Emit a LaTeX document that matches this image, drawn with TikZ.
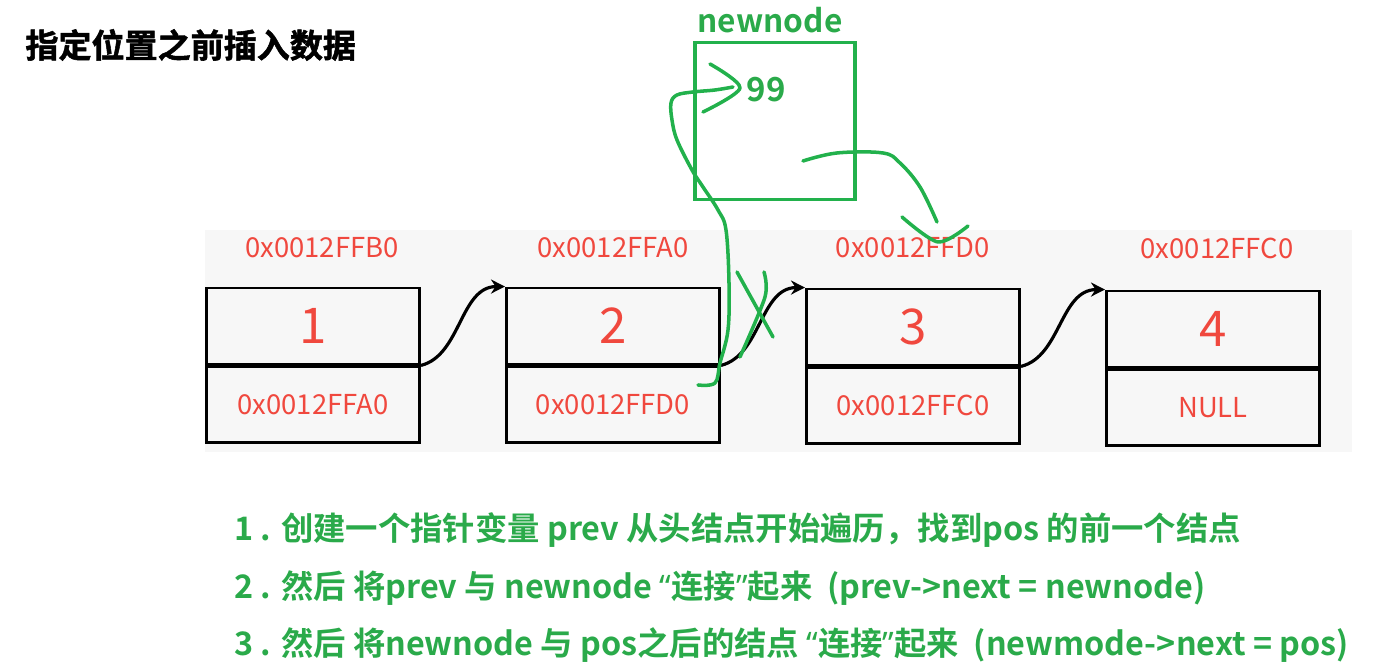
\documentclass[tikz,border=0pt]{standalone}
\usepackage{fontspec}
\setmainfont{Noto Sans CJK SC}
\newfontfamily\cjkbold[BoldFont=*]{Noto Sans CJK SC Bold}
\newfontfamily\titlefont[FakeBold=1.6]{Noto Sans CJK SC Bold}
\newfontfamily\latinsans{Noto Sans}
\newcommand{\openq}{{\latinsans\bfseries “}}
\newcommand{\closeq}{{\latinsans\bfseries ”}}
\usetikzlibrary{arrows.meta}
\definecolor{penGreen}{RGB}{34,177,76}
\definecolor{txtGreen}{RGB}{42,170,74}
\definecolor{addrRed}{RGB}{240,72,62}
\definecolor{panelGray}{RGB}{247,247,247}
\tikzset{
  field/.style={draw, line width=0.8pt, minimum width=2.13cm, minimum height=0.76cm, inner sep=0pt},
  addr/.style={text=addrRed, font=\fontsize{7.8}{9}\selectfont},
  val/.style={text=addrRed, font=\fontsize{14}{16}\selectfont},
  link/.style={line width=0.9pt, -{Stealth[length=4pt,width=4pt]}},
  pen/.style={penGreen, line width=1pt, line cap=round, line join=round},
  steptext/.style={anchor=west, text=txtGreen, font=\cjkbold\bfseries\fontsize{9.2}{11}\selectfont}
}
\begin{document}
\begin{tikzpicture}[x=0.01cm, y=-0.01cm]
  \useasboundingbox (0,0) rectangle (1387,671);
  % fond du schema
  \fill[panelGray] (205,230) rectangle (1352,452);

  % titre
  \node[anchor=west, font=\titlefont\fontsize{9.4}{11}\selectfont] (title) at (13,45) {指定位置之前插入数据};

  % les quatre noeuds de la liste
  \node[field] (d1) at (313,326) {}; \node[field, anchor=north] (n1) at (d1.south) {};
  \node[field] (d2) at (613,326) {}; \node[field, anchor=north] (n2) at (d2.south) {};
  \node[field] (d3) at (913,327) {}; \node[field, anchor=north] (n3) at (d3.south) {};
  \node[field] (d4) at (1213,329) {}; \node[field, anchor=north] (n4) at (d4.south) {};

  \node[val] at (d1) {1};
  \node[val] at (d2) {2};
  \node[val] at (d3) {3};
  \node[val] at (d4) {4};
  \node[addr] at (n1) {0x0012FFA0};
  \node[addr] at (n2) {0x0012FFD0};
  \node[addr] at (n3) {0x0012FFC0};
  \node[addr] at (n4) {NULL};

  % adresses
  \node[addr] (a1) at (322,248) {0x0012FFB0};
  \node[addr] (a2) at (613,248) {0x0012FFA0};
  \node[addr] (a3) at (913,248) {0x0012FFD0};
  \node[addr] (a4) at (1217,248) {0x0012FFC0};

  % liens
  \draw[link] (n1.north east) .. controls +(40,-10) and +(-45,0) .. (d2.north west);
  \draw[link] (n2.north east) .. controls +(40,-10) and +(-45,0) .. (d3.north west);
  \draw[link] (n3.north east) .. controls +(40,-10) and +(-45,0) .. (d4.north west);

  % nouveau noeud
  \node[draw=penGreen, line width=1.1pt, minimum width=1.6cm, minimum height=1.57cm] (nn) at (775,121) {};
  \node[text=txtGreen, font=\cjkbold\bfseries\fontsize{9}{11}\selectfont] (nnlab) at (770,20) {newnode};
  \node[text=txtGreen, font=\cjkbold\bfseries\fontsize{9.4}{11}\selectfont] (nnval) at (766,90) {99};

  % traits a main levee
  \draw[pen] plot[smooth, tension=0.6] coordinates {(698,385) (715,383) (720,363) (728,330) (729,283) (726,230) (718,210) (703,187) (692,170) (677,140) (672,120) (671,103) (677,95) (693,92) (715,90) (733,87)};
  \draw[pen] plot[smooth, tension=0.5] coordinates {(710,64) (740,88) (703,112)};
  \draw[pen] plot[smooth, tension=0.6] coordinates {(803,161) (837,153) (883,153) (900,163) (920,187) (937,222)};
  \draw[pen] plot[smooth, tension=0.5] coordinates {(902,217) (938,242) (968,226)};
  \draw[pen] (737,272) -- (773,337);
  \draw[pen] plot[smooth, tension=0.5] coordinates {(764,272) (765,297) (740,357)};

  % etapes
  \node[steptext] (s1) at (222,530) {1 . 创建一个指针变量 prev 从头结点开始遍历，找到pos 的前一个结点};
  \node[steptext] (s2) at (222,588) {2 . 然后 将prev 与 newnode \openq 连接\closeq 起来 \ (prev->next = newnode)};
  \node[steptext] (s3) at (222,645) {3 . 然后 将newnode 与 pos之后的结点 \openq 连接\closeq 起来 \ (newmode->next = pos)};
\end{tikzpicture}
\end{document}
